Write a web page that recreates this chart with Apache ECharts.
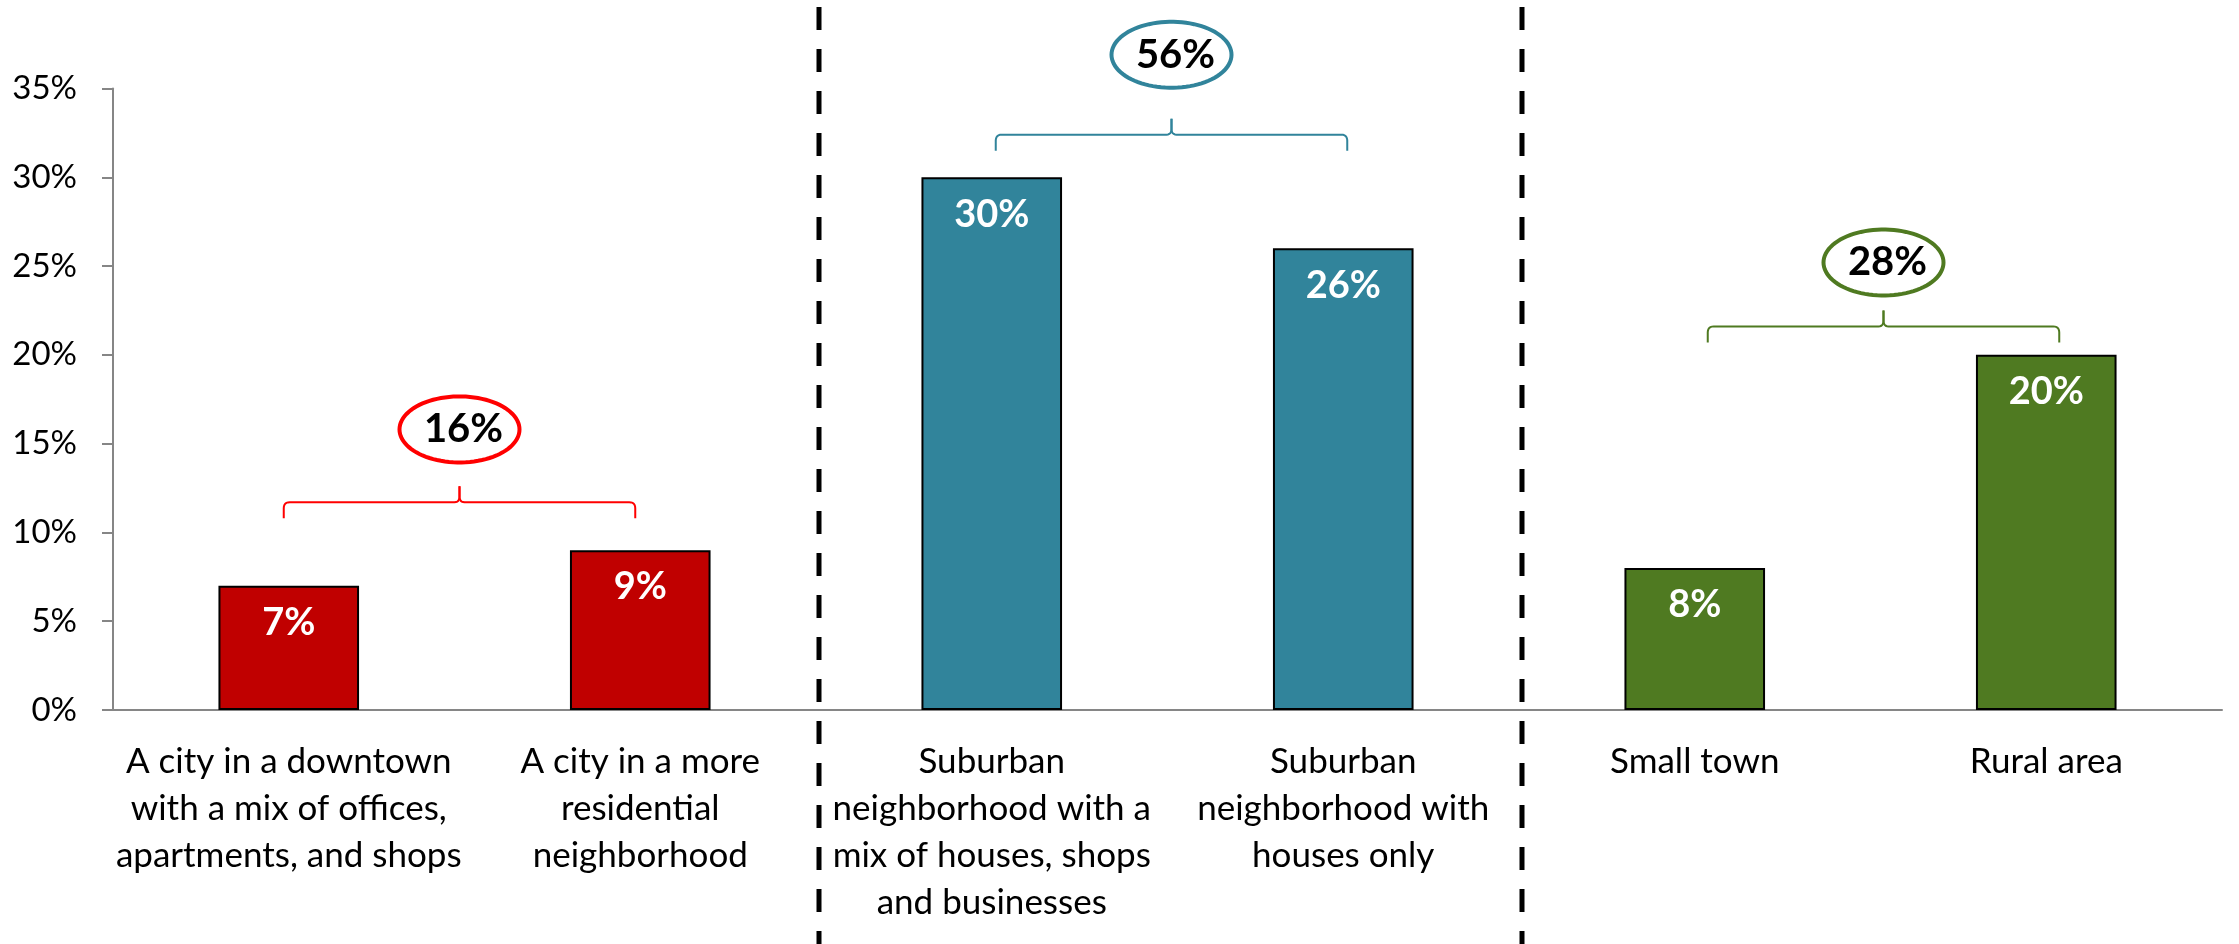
<!DOCTYPE html>
<html>
<head>
<meta charset="utf-8">
<script src="https://cdn.jsdelivr.net/npm/echarts@6/dist/echarts.min.js"></script>
<style>
    html, body { margin: 0; padding: 0; background: #fff; }
    #chart { width: 2239px; height: 944px; }
</style>
</head>
<body>
<div id="chart"></div>
<script>
const categories = [
    'A city in a downtown\nwith a mix of offices,\napartments, and shops',
    'A city in a more\nresidential\nneighborhood',
    'Suburban\nneighborhood with a\nmix of houses, shops\nand businesses',
    'Suburban\nneighborhood with\nhouses only',
    'Small town',
    'Rural area'
];
const values = [7, 9, 30, 26, 8, 20];
const barColors = ['#C00000', '#C00000', '#31849B', '#31849B', '#4F7A21', '#4F7A21'];

// groups: bracket + oval total
const groupRanges = [[0, 1], [2, 3], [4, 5]];
const groupTotals = ['16%', '56%', '28%'];
const groupColors = ['#FF0000', '#31849B', '#4F7A21'];
const braceLevels = [11.7, 32.4, 21.6];
const ovalLevels = [15.8, 36.9, 25.2];
const dividerAfter = [1, 3];

const FONT = 'Lato';
let myChart = echarts.init(document.getElementById('chart'));

let option = {
    animation: false,
    backgroundColor: '#fff',
    grid: {
        left: 113,
        right: 17,
        top: 88.5,
        bottom: 234
    },
    xAxis: {
        type: 'category',
        data: categories,
        axisLine: {
            lineStyle: { color: '#868686', width: 2 }
        },
        axisTick: {
            length: 11,
            lineStyle: { color: '#868686', width: 2 }
        },
        axisLabel: {
            interval: 0,
            color: '#000',
            fontFamily: FONT,
            fontSize: 35,
            lineHeight: 47,
            margin: 28
        }
    },
    yAxis: {
        type: 'value',
        min: 0,
        max: 35,
        interval: 5,
        splitLine: { show: false },
        axisLine: {
            show: true,
            lineStyle: { color: '#868686', width: 2 }
        },
        axisTick: {
            show: true,
            length: 11,
            lineStyle: { color: '#868686', width: 2 }
        },
        axisLabel: {
            formatter: '{value}%',
            color: '#000',
            fontFamily: FONT,
            fontSize: 33,
            margin: 36
        }
    },
    series: [{
        type: 'bar',
        barWidth: '40%',
        data: values.map((v, i) => ({
            value: v,
            itemStyle: { color: barColors[i] }
        })),
        itemStyle: {
            borderColor: '#000',
            borderWidth: 2
        },
        label: {
            show: true,
            position: 'insideTop',
            distance: 18,
            formatter: '{c}%',
            color: '#fff',
            fontWeight: 'bold',
            fontFamily: FONT,
            fontSize: 38
        }
    }]
};
myChart.setOption(option);

// annotations: dashed dividers, brackets, ovals
let graphics = [];
const px = (i, v) => myChart.convertToPixel({ gridIndex: 0 }, [i, v]);
const braceShift = [-5, 4, 13]; // small horizontal nudge of each bracket

// sample a quadratic curve into points
function quad(p0, c, p1) {
    let pts = [];
    for (let k = 0; k <= 6; k++) {
        let t = k / 6;
        pts.push([
            (1 - t) * (1 - t) * p0[0] + 2 * (1 - t) * t * c[0] + t * t * p1[0],
            (1 - t) * (1 - t) * p0[1] + 2 * (1 - t) * t * c[1] + t * t * p1[1]
        ]);
    }
    return pts;
}

dividerAfter.forEach(i => {
    let x = (px(i, 0)[0] + px(i + 1, 0)[0]) / 2 + 3;
    graphics.push({
        type: 'line',
        z: 100,
        shape: { x1: x, y1: 7, x2: x, y2: 944 },
        style: { stroke: '#000', lineWidth: 5, lineDash: [23, 19] }
    });
});

groupRanges.forEach((r, g) => {
    let x0 = px(r[0], 0)[0] + braceShift[g];
    let x1 = px(r[1], 0)[0] + braceShift[g];
    let xm = (x0 + x1) / 2;
    let y = px(0, braceLevels[g])[1];
    let left = [[x0, y + 16]]
        .concat(quad([x0, y + 6], [x0, y], [x0 + 6, y]))
        .concat(quad([xm - 5, y], [xm, y], [xm, y - 6]))
        .concat([[xm, y - 16]]);
    let right = [[xm, y - 16]]
        .concat(quad([xm, y - 6], [xm, y], [xm + 5, y]))
        .concat(quad([x1 - 6, y], [x1, y], [x1, y + 6]))
        .concat([[x1, y + 16]]);
    [left, right].forEach(pts => {
        graphics.push({
            type: 'polyline',
            z: 100,
            shape: { points: pts },
            style: { stroke: groupColors[g], lineWidth: 2, fill: null }
        });
    });
    let cy = px(0, ovalLevels[g])[1];
    let oval = [];
    for (let k = 0; k < 90; k++) {
        let a = k / 90 * Math.PI * 2;
        oval.push([xm + 60 * Math.cos(a), cy + 33 * Math.sin(a)]);
    }
    graphics.push({
        type: 'polygon',
        z: 100,
        shape: { points: oval },
        style: { stroke: groupColors[g], lineWidth: 4, fill: '#fff' }
    });
    graphics.push({
        type: 'text',
        z: 101,
        x: xm + 4,
        y: cy,
        style: {
            text: groupTotals[g],
            fill: '#000',
            font: 'bold 40px ' + FONT,
            align: 'center',
            verticalAlign: 'middle'
        }
    });
});

myChart.setOption({ graphic: graphics });
</script>
</body>
</html>
